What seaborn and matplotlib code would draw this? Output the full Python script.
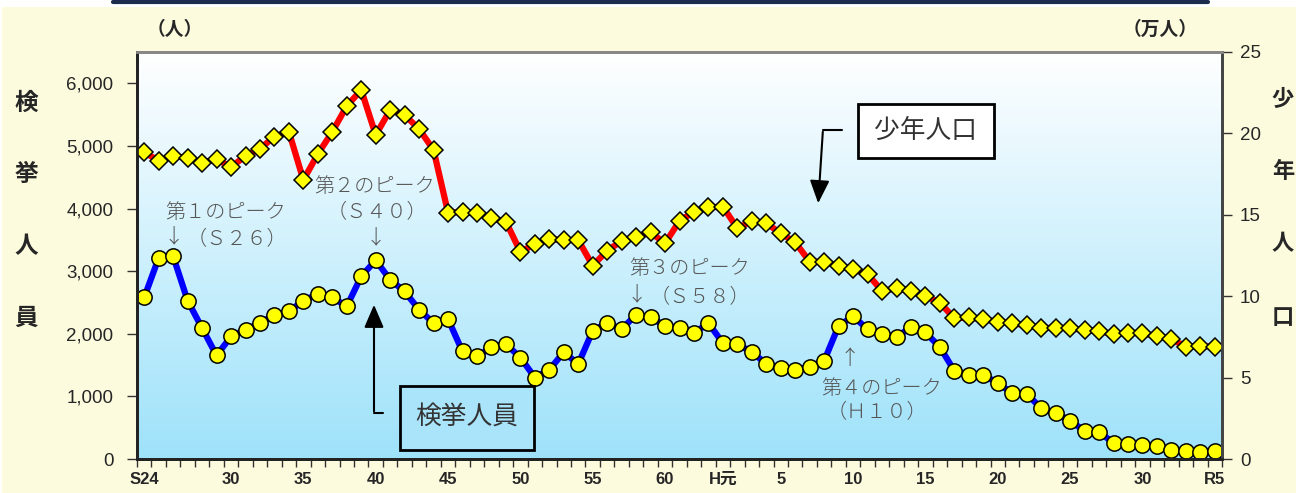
import numpy as np
import pandas as pd
import matplotlib.pyplot as plt
import seaborn as sns
from matplotlib.patches import Rectangle, FancyArrowPatch
from matplotlib.lines import Line2D

# 昭和24年(1949) ～ 令和5年(2023)
years = list(range(1949, 2024))

# 検挙人員（人）
arrests = [2581, 3211, 3237, 2528, 2091, 1653, 1957, 2064, 2171, 2304, 2357,
           2528, 2635, 2581, 2437, 2917, 3173, 2864, 2677, 2384, 2171, 2235,
           1717, 1637, 1787, 1835, 1621, 1301, 1424, 1707, 1515, 2048, 2171,
           2075, 2304, 2261, 2128, 2091, 2011, 2171, 1851, 1835, 1707, 1520,
           1451, 1424, 1477, 1568,
           2128, 2277, 2075, 2000, 1947, 2107, 2021, 1787, 1408, 1344, 1344,
           1211, 1051, 1040, 811, 731, 613, 448, 427, 261, 240, 224, 208,
           144, 133, 107, 128]

# 少年人口（万人）
population = [18.84, 18.32, 18.61, 18.49, 18.20, 18.41, 17.94, 18.61, 19.06,
              19.80, 20.10, 17.14, 18.73, 20.10, 21.68, 22.67, 19.90, 21.44,
              21.13, 20.27, 18.98, 15.13,
              15.17, 15.09, 14.78, 14.58, 12.73, 13.19, 13.51, 13.45, 13.45,
              11.87, 12.80, 13.39, 13.66, 13.92, 13.25, 14.62, 15.19, 15.46,
              15.50, 14.17, 14.62, 14.48, 13.86, 13.31, 12.12, 12.12,
              11.87, 11.65, 11.36, 10.32, 10.48, 10.34, 10.01, 9.60, 8.64,
              8.70, 8.58, 8.43, 8.33, 8.23, 8.03, 8.07, 8.03, 7.92, 7.86, 7.66,
              7.76, 7.72, 7.56, 7.37, 6.90, 6.94, 6.90]

tick_years = [1949, 1955, 1960, 1965, 1970, 1975, 1980, 1985, 1989, 1993,
              1998, 2003, 2008, 2013, 2018, 2023]
tick_labels = ['S24', '30', '35', '40', '45', '50', '55', '60', 'H元', '5',
               '10', '15', '20', '25', '30', 'R5']

df = pd.DataFrame({'year': years, 'arrests': arrests, 'population': population})
df['pos'] = np.arange(len(df))

sns.set_theme(style="white")
plt.rcParams['font.family'] = ['Liberation Sans', 'Noto Sans CJK JP', 'DejaVu Sans']

W, H = 1296, 493
fig = plt.figure(figsize=(W / 100, H / 100), dpi=100)
fig.patch.set_facecolor('white')


def px(x, y):
    return (x / W, 1 - y / H)


# yellow page background + top bar
fig.patches.append(Rectangle((2 / W, 0), 1 - 2 / W, (H - 7) / H, transform=fig.transFigure,
                             facecolor='#FDFBDE', edgecolor='none', zorder=-5))
fig.add_artist(Line2D([113 / W, 1208 / W], [1 - 2 / H, 1 - 2 / H], color='#1c2c4c',
                      lw=3, transform=fig.transFigure))

rect = [137 / W, 34 / H, 1085 / W, 407 / H]

# gradient plot area
bg = fig.add_axes(rect, zorder=0)
t = np.linspace(0, 1, 256)[:, None]
top = np.array([1.0, 1.0, 1.0])
bot = np.array([158, 226, 250]) / 255
grad = (1 - t)[..., None] * top + t[..., None] * bot
grad = np.repeat(grad, 2, axis=1)
bg.imshow(grad, aspect='auto', extent=[0, 1, 0, 1])
bg.set_axis_off()

ax = fig.add_axes(rect, zorder=1)
ax.patch.set_alpha(0)
ax2 = ax.twinx()

sns.lineplot(data=df, x='pos', y='arrests', ax=ax, color='#0000FF', linewidth=4.5,
             marker='o', markersize=11, markerfacecolor='#FFFF00',
             markeredgecolor='black', markeredgewidth=1.1)
sns.lineplot(data=df, x='pos', y='population', ax=ax2, color='#FF0000', linewidth=4.5,
             marker='D', markersize=9.5, markerfacecolor='#FFFF00',
             markeredgecolor='black', markeredgewidth=1.1)

n = len(df)
ax.set_xlim(-0.5, n - 0.5)
ax.set_ylim(0, 6500)
ax2.set_ylim(0, 25)
ax.set_xlabel('')
ax.set_ylabel('')
ax2.set_ylabel('')

ax.set_yticks(range(0, 6001, 1000))
ax.set_yticklabels([f'{v:,}' for v in range(0, 6001, 1000)], fontsize=13.5)
ax2.set_yticks(range(0, 26, 5))
ax2.set_yticklabels([str(v) for v in range(0, 26, 5)], fontsize=13.5)

ax.set_xticks([years.index(y) for y in tick_years])
ax.set_xticklabels(tick_labels, fontsize=12, fontweight='bold')
ax.set_xticks(np.arange(-0.5, n, 1), minor=True)
ax.tick_params(axis='x', which='major', length=0, pad=9)
ax.tick_params(axis='x', which='minor', length=6, width=1, color='#333333', direction='out', bottom=True)
ax.tick_params(axis='y', length=7, width=1, color='#333333', direction='out', pad=10, left=True)
ax2.tick_params(axis='y', length=7, width=1, color='#333333', direction='out', pad=6, right=True)

for a in (ax, ax2):
    a.grid(False)
    for s in a.spines.values():
        s.set_linewidth(2)
    a.spines['top'].set_color('#888888')
    a.spines['left'].set_color('#222222')
    a.spines['bottom'].set_color('#222222')
    a.spines['right'].set_color('#444444')

# unit labels and vertical axis titles
fig.text(*px(175, 30), '（人）', ha='center', va='center', fontsize=13.5, fontweight='bold')
fig.text(*px(1160, 30), '（万人）', ha='center', va='center', fontsize=13.5, fontweight='bold')
for ch, yy in zip('検挙人員', [103, 175, 247, 318]):
    fig.text(*px(26, yy), ch, ha='center', va='center', fontsize=17, fontweight='bold')
for ch, yy in zip('少年人口', [100, 172, 245, 318]):
    fig.text(*px(1283, yy), ch, ha='center', va='center', fontsize=16, fontweight='bold')

# peak annotations
gray = '#555555'
notes = [
    ('第１のピーク', 226, 213), ('（Ｓ２６）', 237, 240), ('↓', 174, 238),
    ('第２のピーク', 375, 186), ('（Ｓ４０）', 377, 213), ('↓', 376, 239),
    ('第３のピーク', 690, 268), ('（Ｓ５８）', 700, 298), ('↓', 637, 296),
    ('第４のピーク', 882, 388), ('（Ｈ１０）', 877, 413), ('↑', 850, 358),
]
for txt, xx, yy in notes:
    fig.text(*px(xx, yy), txt, ha='center', va='center', fontsize=14.5, color=gray,
             family=['Noto Sans CJK JP', 'DejaVu Sans'], fontweight='light')

# label boxes
x0, y0, x1, y1 = 400, 386, 534, 450
fig.patches.append(Rectangle(px(x0, y1), (x1 - x0) / W, (y1 - y0) / H, transform=fig.transFigure,
                             facecolor='#A9E4FA', edgecolor='black', lw=2, zorder=3))
fig.text(*px(467, 417), '検挙人員', ha='center', va='center', fontsize=18.5, color='#333333',
         family=['Noto Sans CJK JP'], zorder=4)
x0, y0, x1, y1 = 858, 104, 994, 158
fig.patches.append(Rectangle(px(x0, y1), (x1 - x0) / W, (y1 - y0) / H, transform=fig.transFigure,
                             facecolor='white', edgecolor='black', lw=2, zorder=3))
fig.text(*px(926, 131), '少年人口', ha='center', va='center', fontsize=18.5, color='#333333',
         family=['Noto Sans CJK JP'], zorder=4)

# elbow arrows
fig.add_artist(Line2D([383 / W, 374 / W], [1 - 413 / H, 1 - 413 / H], color='black', lw=1.5,
                      transform=fig.transFigure))
fig.add_artist(FancyArrowPatch(px(374, 414), px(374, 302), transform=fig.transFigure,
                               arrowstyle='-|>,head_length=0.7,head_width=0.3',
                               mutation_scale=20, color='black', lw=1.5))
fig.add_artist(Line2D([842 / W, 823 / W], [1 - 130 / H, 1 - 130 / H], color='black', lw=1.5,
                      transform=fig.transFigure))
fig.add_artist(FancyArrowPatch(px(823, 129), px(818, 206), transform=fig.transFigure,
                               arrowstyle='-|>,head_length=0.7,head_width=0.3',
                               mutation_scale=20, color='black', lw=1.5))

plt.savefig('out.png', dpi=100)
